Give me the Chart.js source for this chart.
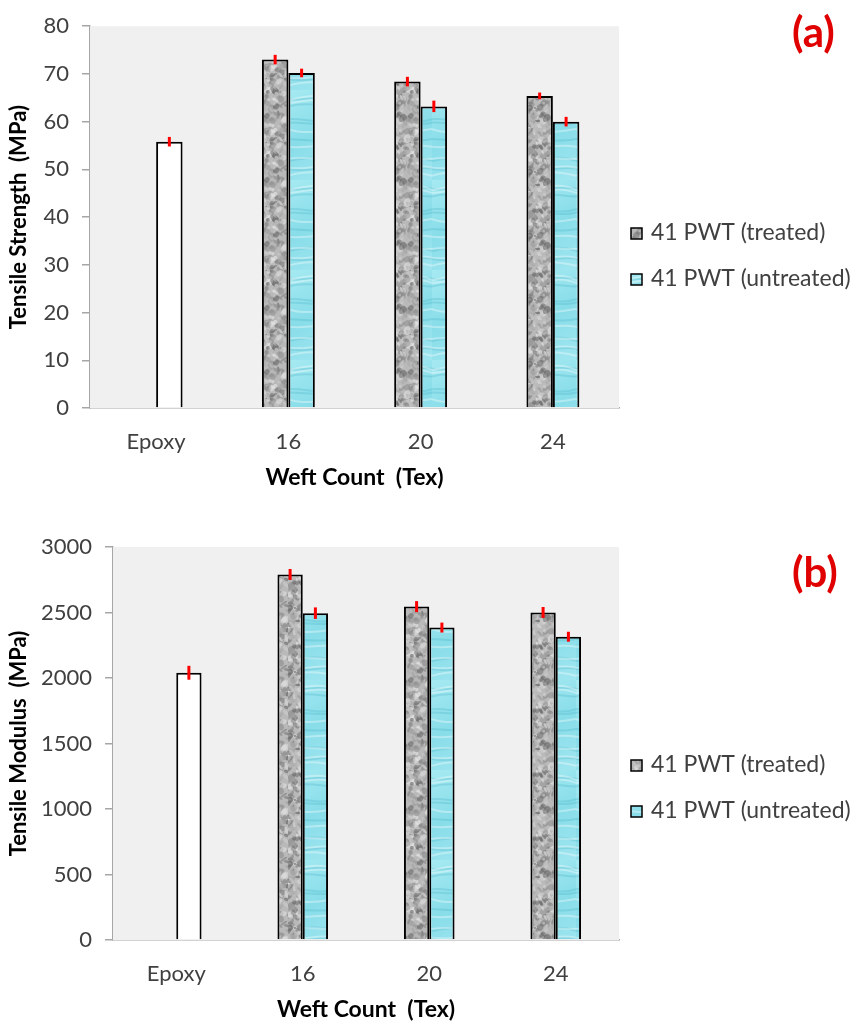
<!DOCTYPE html>
<html>
<head>
<meta charset="utf-8">
<script src="https://cdn.jsdelivr.net/npm/chart.js@4.4.1/dist/chart.umd.min.js"></script>
<style>
  body { margin: 0; background: #fff; }
  #wrap { position: relative; width: 858px; height: 1024px; overflow: hidden; }
  .box { position: absolute; left: 0; width: 858px; }
  .tag { position: absolute; font-family: Lato, sans-serif; font-weight: bold; font-size: 42px; color: #e00000; line-height: 1; }
</style>
</head>
<body>
<div id="wrap">
  <div class="box" style="top:0;height:495px"><canvas id="strength-chart" width="858" height="495"></canvas></div>
  <div class="box" style="top:500px;height:524px"><canvas id="modulus-chart" width="858" height="524"></canvas></div>
  <div class="tag" style="left:792px;top:10px">(a)</div>
  <div class="tag" style="left:792px;top:550px">(b)</div>
</div>
<script>
const categories = ["Epoxy", "16", "20", "24"];
const seriesLabels = ["41 PWT (treated)", "41 PWT (untreated)"];

// tensile strength (MPa)
const strengthTreated = [null, 73.0, 68.4, 65.4];
const strengthUntreated = [55.8, 70.2, 63.2, 60.0];
const strengthTreatedErr = [0, 1.0, 1.0, 0.7];
const strengthUntreatedErr = [1.0, 0.9, 1.2, 1.0];
const strengthTicks = [0, 10, 20, 30, 40, 50, 60, 70, 80];

// tensile modulus (MPa)
const modulusTreated = [null, 2790, 2545, 2500];
const modulusUntreated = [2040, 2495, 2385, 2315];
const modulusTreatedErr = [0, 42, 42, 42];
const modulusUntreatedErr = [53, 44, 38, 38];
const modulusTicks = [0, 500, 1000, 1500, 2000, 2500, 3000];

const FONT = "Lato, 'Open Sans', sans-serif";

// small seeded generator, only for the texture look of the fills
function seeded(s) {
	return function () {
		s = (s * 1664525 + 1013904223) % 4294967296;
		return s / 4294967296;
	};
}

function granitePattern() {
	const c = document.createElement("canvas");
	c.width = 48; c.height = 64;
	const g = c.getContext("2d");
	g.fillStyle = "#b9b9b9";
	g.fillRect(0, 0, c.width, c.height);
	const rnd = seeded(7);
	for (let i = 0; i < 260; i++) {
		const v = Math.floor(90 + rnd() * 150);
		g.fillStyle = "rgba(" + v + "," + v + "," + v + ",0.55)";
		g.beginPath();
		g.ellipse(rnd() * 48, rnd() * 64, 1 + rnd() * 3, 1 + rnd() * 2.5, rnd() * 3, 0, Math.PI * 2);
		g.fill();
	}
	return g.createPattern(c, "repeat");
}

function waterPattern() {
	const c = document.createElement("canvas");
	c.width = 48; c.height = 90;
	const g = c.getContext("2d");
	const grad = g.createLinearGradient(0, 0, 48, 90);
	grad.addColorStop(0, "#a6eaf2");
	grad.addColorStop(0.5, "#88dde9");
	grad.addColorStop(1, "#a0e6f0");
	g.fillStyle = grad;
	g.fillRect(0, 0, c.width, c.height);
	const rnd = seeded(21);
	g.lineWidth = 2;
	for (let i = 0; i < 14; i++) {
		g.strokeStyle = rnd() > 0.5 ? "rgba(255,255,255,0.35)" : "rgba(60,170,190,0.25)";
		const y = rnd() * 90;
		g.beginPath();
		g.moveTo(0, y);
		g.bezierCurveTo(16, y - 8 + rnd() * 16, 32, y - 8 + rnd() * 16, 48, y);
		g.stroke();
	}
	return g.createPattern(c, "repeat");
}

const grayFill = granitePattern();
const cyanFill = waterPattern();

const plotBackground = {
	id: "plotBackground",
	beforeDatasetsDraw(chart) {
		const a = chart.chartArea;
		const ctx = chart.ctx;
		ctx.save();
		ctx.fillStyle = "#f0f0f0";
		ctx.fillRect(a.left, a.top, a.right - a.left, a.bottom - a.top);
		ctx.restore();
	},
};

const errorBars = {
	id: "errorBars",
	afterDatasetsDraw(chart) {
		const ctx = chart.ctx;
		const y = chart.scales.y;
		ctx.save();
		ctx.strokeStyle = "#ff0000";
		ctx.lineWidth = 3;
		chart.data.datasets.forEach((ds, di) => {
			const meta = chart.getDatasetMeta(di);
			ds.data.forEach((v, i) => {
				if (v === null) return;
				const e = ds.errors[i];
				const bar = meta.data[i];
				ctx.beginPath();
				ctx.moveTo(bar.x, y.getPixelForValue(v - e));
				ctx.lineTo(bar.x, y.getPixelForValue(v + e));
				ctx.stroke();
			});
		});
		ctx.restore();
	},
};

const sideLegend = {
	id: "sideLegend",
	afterDraw(chart, args, opts) {
		const ctx = chart.ctx;
		ctx.save();
		ctx.font = "23px " + FONT;
		ctx.textBaseline = "middle";
		opts.items.forEach((it) => {
			ctx.fillStyle = it.fill;
			ctx.fillRect(opts.x, it.y - 5, 11, 11);
			ctx.strokeStyle = "#000";
			ctx.lineWidth = 1.5;
			ctx.strokeRect(opts.x, it.y - 5, 11, 11);
			ctx.fillStyle = "#404040";
			ctx.fillText(it.text, opts.x + 20, it.y);
		});
		ctx.restore();
	},
};

function makeChart(id, cfg) {
	const ctx = document.getElementById(id).getContext("2d");
	return new Chart(ctx, {
		type: "bar",
		data: {
			labels: categories,
			datasets: [
				{
					label: seriesLabels[0],
					data: cfg.treated,
					errors: cfg.treatedErr,
					backgroundColor: grayFill,
					borderColor: "#000",
					borderWidth: 2,
				},
				{
					label: seriesLabels[1],
					data: cfg.untreated,
					errors: cfg.untreatedErr,
					backgroundColor: ["#ffffff", cyanFill, cyanFill, cyanFill],
					borderColor: "#000",
					borderWidth: 2,
				},
			],
		},
		options: {
			responsive: false,
			animation: false,
			devicePixelRatio: 1,
			layout: { padding: { top: cfg.top, right: 239, bottom: cfg.bottom, left: 0 } },
			datasets: { bar: { barPercentage: 1, categoryPercentage: 0.4 } },
			plugins: {
				legend: { display: false },
				tooltip: { enabled: false },
				sideLegend: { x: 631, items: [
					{ text: seriesLabels[0], fill: grayFill, y: cfg.legendY[0] },
					{ text: seriesLabels[1], fill: cyanFill, y: cfg.legendY[1] },
				] },
			},
			scales: {
				x: {
					grid: { display: false, drawTicks: false },
					border: { display: true, color: "#a6a6a6", width: 1.5 },
					ticks: { color: "#404040", font: { family: FONT, size: 22 }, padding: cfg.xPad },
					title: {
						display: true,
						text: "Weft Count  (Tex)",
						color: "#000",
						font: { family: FONT, size: 23, weight: "bold" },
						padding: 0,
					},
					afterFit(s) { s.height = cfg.xHeight; },
				},
				y: {
					min: 0,
					max: cfg.ticks[cfg.ticks.length - 1],
					afterBuildTicks(s) { s.ticks = cfg.ticks.map((v) => ({ value: v })); },
					grid: { display: true, drawOnChartArea: false, drawTicks: true, tickLength: 8, color: "#a6a6a6", lineWidth: 1.5 },
					border: { display: true, color: "#a6a6a6", width: 1.5 },
					ticks: {
						color: "#404040",
						font: { family: FONT, size: 22 },
						padding: 13,
						callback: (v) => String(v),
					},
					title: {
						display: true,
						text: cfg.yTitle,
						color: "#000",
						font: { family: FONT, size: 22, weight: "bold" },
						padding: { top: 6, bottom: 0 },
					},
					afterFit(s) { s.width = cfg.yWidth; },
				},
			},
		},
		plugins: [plotBackground, errorBars, sideLegend],
	});
}

makeChart("strength-chart", {
	treated: strengthTreated,
	untreated: strengthUntreated,
	treatedErr: strengthTreatedErr,
	untreatedErr: strengthUntreatedErr,
	ticks: strengthTicks,
	yTitle: "Tensile Strength  (MPa)",
	top: 17,
	bottom: 4,
	xHeight: 495 - 4 - 408,
	xPad: 21,
	yWidth: 90,
	legendY: [233, 279],
});

makeChart("modulus-chart", {
	treated: modulusTreated,
	untreated: modulusUntreated,
	treatedErr: modulusTreatedErr,
	untreatedErr: modulusUntreatedErr,
	ticks: modulusTicks,
	yTitle: "Tensile Modulus  (MPa)",
	top: 47,
	bottom: 1,
	xHeight: 524 - 1 - 440,
	xPad: 21,
	yWidth: 113,
	legendY: [265, 311],
});
</script>
</body>
</html>
